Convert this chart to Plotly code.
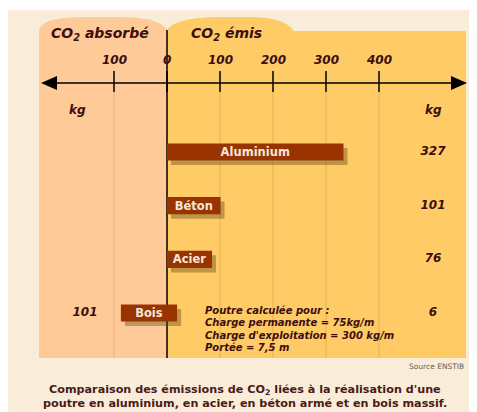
import plotly.graph_objects as go

# ---------------- data ----------------
materials = ["Aluminium", "Béton", "Acier", "Bois"]
co2_emitted = [327, 101, 76, 6]          # kg, right column
co2_absorbed = [None, None, None, 101]   # kg, left column
bar_start = [0, 0, 0, -87]               # drawn bar extents (kg scale)
bar_end = [333, 101, 85, 19]
tick_values = [-100, 0, 100, 200, 300, 400]
tick_labels = ["100", "0", "100", "200", "300", "400"]
header_left = "CO<sub>2</sub> absorbé"
header_right = "CO<sub>2</sub> émis"
note_lines = ["Poutre calculée pour :",
              "Charge permanente = 75kg/m",
              "Charge d'exploitation = 300 kg/m",
              "Portée = 7,5 m"]
caption_lines = ["Comparaison des émissions de CO<sub>2</sub> liées à la réalisation d'une",
                 "poutre en aluminium, en acier, en béton armé et en bois massif."]
source = "Source ENSTIB"

# ---------------- geometry (reference pixel coords, page offset compensated) ----------------
OFF = 8                   # page body margin
W, H = 477 - OFF, 412 - OFF
X0 = 167.0                # pixel of zero (page)
SC = 0.53                 # px per kg
CAT0 = 152.0              # pixel of first category (page)
CSP = 53.67               # pixel spacing of categories

def kg(px):
    return (px - X0) / SC

def fx(px):
    return (px - OFF) / W

def fy(py):
    return 1 - (py - OFF) / H

BEIGE = "#F9EDD9"
PEACH = "#FECA98"
YELLOW = "#FECB66"
DARK = "#3C0E0E"
BAR = "#993300"
BARTXT = "#F5E6DA"
GRID = "rgba(170,110,40,0.28)"

fig = go.Figure()

lengths = [e - s for s, e in zip(bar_start, bar_end)]

# shadow bars
fig.add_trace(go.Bar(
    y=materials, x=lengths, base=[s + 4 / SC for s in bar_start],
    orientation="h", width=0.32, offset=-0.16 + 4.5 / CSP,
    marker=dict(color="rgba(90,70,20,0.4)", line_width=0),
    hoverinfo="skip", showlegend=False))

# main bars
fig.add_trace(go.Bar(
    y=materials, x=lengths, base=bar_start,
    orientation="h", width=0.32, offset=-0.16,
    marker=dict(color=BAR, line_width=0),
    text=[f"<b>{m}</b>" for m in materials],
    textposition="inside", insidetextanchor="middle", constraintext="none",
    textangle=0,
    textfont=dict(family="DejaVu Sans", size=11.5, color=BARTXT),
    hoverinfo="skip", showlegend=False))

# emitted values column
fig.add_trace(go.Scatter(
    y=materials, x=[kg(433)] * len(materials), mode="text",
    text=[f"<b><i>{v}</i></b>" for v in co2_emitted],
    textfont=dict(family="DejaVu Sans", size=12, color=DARK),
    hoverinfo="skip", showlegend=False))

# absorbed values column
abs_y = [m for m, a in zip(materials, co2_absorbed) if a is not None]
abs_t = [f"<b><i>{a}</i></b>" for a in co2_absorbed if a is not None]
fig.add_trace(go.Scatter(
    y=abs_y, x=[kg(85)] * len(abs_y), mode="text", text=abs_t,
    textfont=dict(family="DejaVu Sans", size=12, color=DARK),
    hoverinfo="skip", showlegend=False))

shapes = []
def P(x, y):
    return f"{fx(x)},{fy(y)}"

# beige panel
shapes.append(dict(type="rect", xref="paper", yref="paper", x0=fx(7), x1=fx(477),
                   y0=fy(412), y1=fy(10), fillcolor=BEIGE, line_width=0, layer="below"))
# peach tab / region
peach_path = (f"M {P(39,358)} L {P(39,31)} Q {P(39,18)} {P(80,17)} L {P(125,17)} "
              f"Q {P(160,18)} {P(167,30)} L {P(167,358)} Z")
shapes.append(dict(type="path", xref="paper", yref="paper", path=peach_path,
                   fillcolor=PEACH, line_width=0, layer="below"))
yellow_path = (f"M {P(167,358)} L {P(167,30)} Q {P(175,18)} {P(215,17)} L {P(255,17)} "
               f"Q {P(285,18)} {P(294,31)} L {P(466,31)} L {P(466,358)} Z")
shapes.append(dict(type="path", xref="paper", yref="paper", path=yellow_path,
                   fillcolor=YELLOW, line_width=0, layer="below"))

# grid lines + ticks
for tv in tick_values:
    xp = X0 + tv * SC
    if tv != 0:
        shapes.append(dict(type="line", xref="paper", yref="paper", x0=fx(xp), x1=fx(xp),
                           y0=fy(92), y1=fy(358), line=dict(color=GRID, width=1), layer="below"))
    shapes.append(dict(type="line", xref="paper", yref="paper", x0=fx(xp), x1=fx(xp),
                       y0=fy(71), y1=fy(92), line=dict(color="black", width=1.5)))
# zero divider
shapes.append(dict(type="line", xref="paper", yref="paper", x0=fx(X0), x1=fx(X0),
                   y0=fy(30), y1=fy(358), line=dict(color="black", width=1.5), layer="below"))
# axis line with arrowheads
shapes.append(dict(type="line", xref="paper", yref="paper", x0=fx(52), x1=fx(456),
                   y0=fy(83), y1=fy(83), line=dict(color="black", width=1.5)))
shapes.append(dict(type="path", xref="paper", yref="paper",
                   path=f"M {P(41,83)} L {P(57,76)} L {P(57,90)} Z",
                   fillcolor="black", line_width=0))
shapes.append(dict(type="path", xref="paper", yref="paper",
                   path=f"M {P(467,83)} L {P(451,76)} L {P(451,90)} Z",
                   fillcolor="black", line_width=0))

ann = []
def A(x, y, t, size, xanchor="center", color=DARK, **kw):
    ann.append(dict(xref="paper", yref="paper", x=fx(x), y=fy(y), text=t, showarrow=False,
                    xanchor=xanchor, yanchor="middle",
                    font=dict(family="DejaVu Sans", size=size, color=color), **kw))

A(49, 34, f"<b><i>{header_left}</i></b>", 14, xanchor="left")
A(189, 34, f"<b><i>{header_right}</i></b>", 14, xanchor="left")
for tv, tl in zip(tick_values, tick_labels):
    A(X0 + tv * SC, 60, f"<b><i>{tl}</i></b>", 12)
A(77, 110, "<b><i>kg</i></b>", 12)
A(433, 110, "<b><i>kg</i></b>", 12)
for i, line in enumerate(note_lines):
    A(203, 310 + i * 12.6, f"<b><i>{line}</i></b>", 10, xanchor="left")
A(466, 366, source, 7.5, xanchor="right", color="#6a5a50")
for i, line in enumerate(caption_lines):
    A(245, 390 + i * 13, f"<b>{line}</b>", 11.2, color="#4A1A1A")

fig.update_layout(
    width=W, height=H, margin=dict(l=0, r=0, t=0, b=0),
    paper_bgcolor="white", plot_bgcolor="rgba(0,0,0,0)",
    barmode="overlay", showlegend=False,
    xaxis=dict(range=[kg(OFF), kg(OFF + W)], visible=False, fixedrange=True),
    yaxis=dict(type="category", categoryorder="array", categoryarray=materials,
               range=[(OFF + H - CAT0) / CSP, (OFF - CAT0) / CSP], visible=False,
               fixedrange=True),
    shapes=shapes, annotations=ann,
)

fig.write_html("out.html")
